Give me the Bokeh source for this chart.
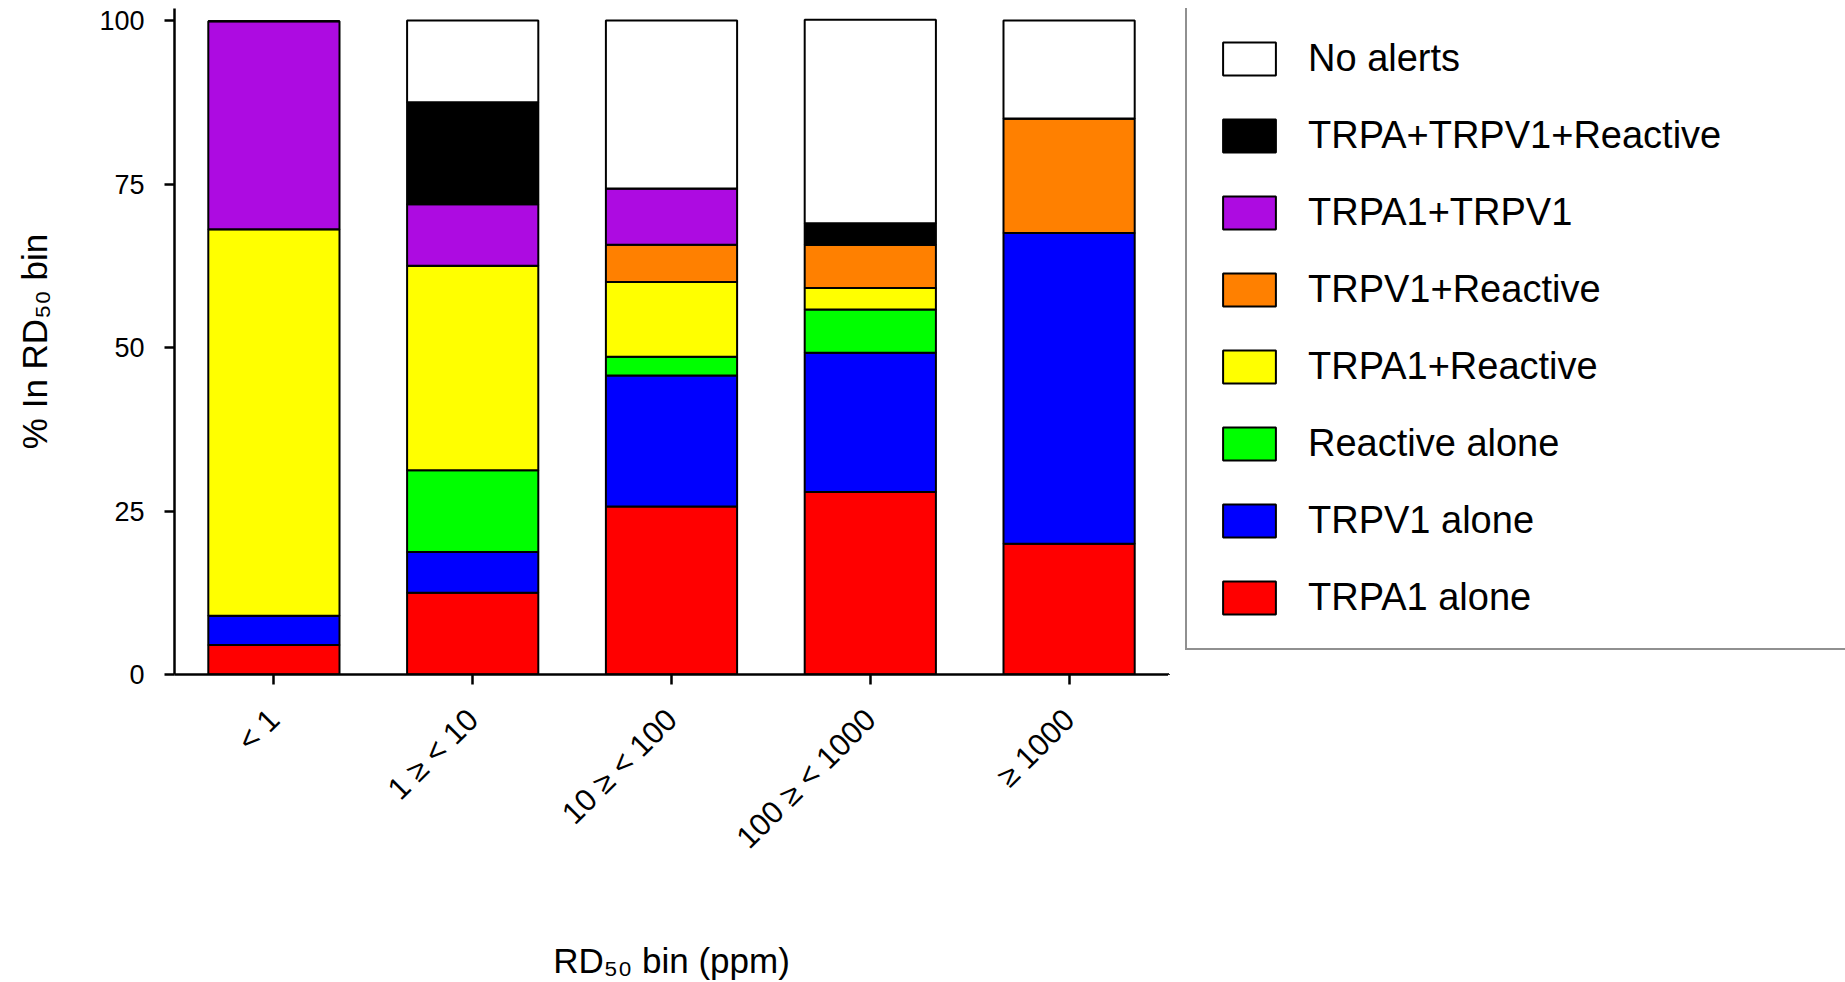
import math
from bokeh.plotting import figure
from bokeh.layouts import row
from bokeh.models import ColumnDataSource, Legend, LegendItem, FactorRange, Range1d, FixedTicker
from bokeh.embed import file_html
from bokeh.resources import INLINE

bins = ["< 1", "1 ≥ < 10", "10 ≥ < 100", "100 ≥ < 1000", "≥ 1000"]
trpa1_alone = [4.5, 12.5, 25.7, 27.9, 20.0]
trpv1_alone = [4.5, 6.25, 20.0, 21.3, 47.5]
reactive_alone = [0, 12.5, 2.9, 6.6, 0]
trpa1_reactive = [59.1, 31.25, 11.4, 3.3, 0]
trpv1_reactive = [0, 0, 5.7, 6.6, 17.5]
trpa1_trpv1 = [31.8, 9.4, 8.6, 0, 0]
all_three = [0, 15.6, 0, 3.3, 0]
no_alerts = [0, 12.5, 25.7, 31.1, 15.0]

series_keys = ["trpa1_alone", "trpv1_alone", "reactive_alone", "trpa1_reactive",
               "trpv1_reactive", "trpa1_trpv1", "all_three", "no_alerts"]
series_labels = ["TRPA1 alone", "TRPV1 alone", "Reactive alone", "TRPA1+Reactive",
                 "TRPV1+Reactive", "TRPA1+TRPV1", "TRPA+TRPV1+Reactive", "No alerts"]
colors = ["#FF0000", "#0000FF", "#00FF00", "#FFFF00", "#FF8000", "#AD0BE1", "#000000", "#FFFFFF"]

source = ColumnDataSource(dict(
    bins=bins,
    trpa1_alone=trpa1_alone,
    trpv1_alone=trpv1_alone,
    reactive_alone=reactive_alone,
    trpa1_reactive=trpa1_reactive,
    trpv1_reactive=trpv1_reactive,
    trpa1_trpv1=trpa1_trpv1,
    all_three=all_three,
    no_alerts=no_alerts,
))

FONT = "Liberation Sans"

TOP_BORDER = 8
p = figure(x_range=FactorRange(*bins, range_padding=0),
           y_range=Range1d(0, 100 * 666 / 654),
           width=1168, height=982, output_backend="svg", toolbar_location=None,
           min_border_left=174, min_border_right=0, min_border_top=TOP_BORDER,
           min_border_bottom=308)

renderers = p.vbar_stack(series_keys, x="bins", width=0.66, source=source,
                         fill_color=colors, line_color="black", line_width=2)

p.outline_line_color = None
p.xgrid.grid_line_color = None
p.ygrid.grid_line_color = None

# y axis
p.yaxis.ticker = FixedTicker(ticks=[0, 25, 50, 75, 100])
p.yaxis.minor_tick_line_color = None
p.yaxis.major_tick_out = 10
p.yaxis.major_tick_in = 0
p.yaxis.axis_line_width = 2.5
p.yaxis.major_tick_line_width = 2.5
p.yaxis.major_label_text_font = FONT
p.yaxis.major_label_text_font_size = "27px"
p.yaxis.major_label_text_color = "black"
p.yaxis.major_label_standoff = 20
p.yaxis.axis_label = "% In RD₅₀ bin"
p.yaxis.axis_label_text_font = FONT
p.yaxis.axis_label_text_font_size = "35px"
p.yaxis.axis_label_text_font_style = "normal"
p.yaxis.axis_label_text_color = "black"
p.yaxis.axis_label_standoff = 42

# x axis
p.xaxis.major_tick_out = 10
p.xaxis.major_tick_in = 0
p.xaxis.axis_line_width = 2.5
p.xaxis.major_tick_line_width = 2.5
p.xaxis.major_label_orientation = math.pi / 4
p.xaxis.major_label_text_font = FONT
p.xaxis.major_label_text_font_size = "31px"
p.xaxis.major_label_text_color = "black"
p.xaxis.major_label_standoff = 30
p.xaxis.axis_label = "RD₅₀ bin (ppm)"
p.xaxis.axis_label_text_font = FONT
p.xaxis.axis_label_text_font_size = "35px"
p.xaxis.axis_label_text_font_style = "normal"
p.xaxis.axis_label_text_color = "black"
p.xaxis.axis_label_standoff = 70

# legend panel: a second, axis-less figure holding legend proxies (kept out of view)
p2 = figure(width=1845 - 1168, height=982, output_backend="svg", toolbar_location=None,
            min_border=0, x_axis_type=None, y_axis_type=None,
            x_range=Range1d(10, 11), y_range=Range1d(10, 11))
p2.outline_line_color = None
p2.xgrid.grid_line_color = None
p2.ygrid.grid_line_color = None

proxy_source = ColumnDataSource(dict(x=[0], top=[1]))
items = []
for lab, col in zip(series_labels, colors):
    r = p2.vbar(x="x", top="top", width=0.5, source=proxy_source,
                fill_color=col, line_color="black", line_width=2)
    items.append(LegendItem(label=lab, renderers=[r]))
items = items[::-1]

legend = Legend(items=items, location=(17, 24), margin=0,
                glyph_width=66, glyph_height=41, label_standoff=26,
                label_text_font=FONT, label_text_font_size="38px",
                label_text_color="black",
                label_height=44, spacing=33, padding=29,
                border_line_color="#222222", border_line_width=2,
                background_fill_color="white", background_fill_alpha=1,
                label_width=520)
p2.add_layout(legend, "center")

layout = row(p, p2, spacing=0)

open("out.html", "w").write(file_html(layout, INLINE))
